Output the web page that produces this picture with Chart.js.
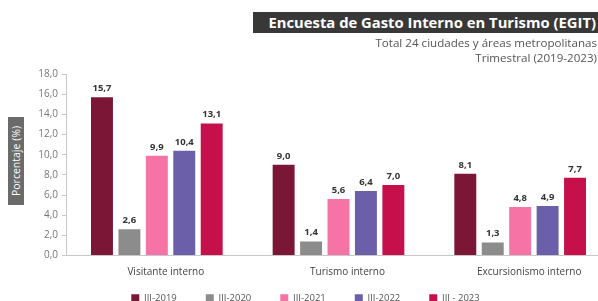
<!DOCTYPE html>
<html><head><meta charset="utf-8">
<script src="https://cdn.jsdelivr.net/npm/chart.js@4/dist/chart.umd.min.js"></script>
<style>
html,body{margin:0;padding:0;width:598px;height:301px;overflow:hidden;background:#fff;font-family:"Open Sans",sans-serif;}
#wrap{position:absolute;left:0;top:0;width:640px;height:332px;}
#title{position:absolute;left:253px;top:12px;width:345px;height:21px;background:#383838;color:#fff;font-weight:bold;font-size:14.8px;line-height:21px;text-align:right;box-sizing:border-box;padding-right:2px;white-space:nowrap;}
.sub{position:absolute;right:1px;font-size:11.6px;color:#555;white-space:nowrap;line-height:14px;}
#ytitle{position:absolute;left:8px;top:117px;width:16px;height:88px;background:#6b6b6b;}
#ytitle span{position:absolute;left:50%;top:50%;transform:translate(-50%,-50%) rotate(-90deg);color:#fff;font-size:10.5px;white-space:nowrap;}
</style></head><body>
<div id="wrap"><canvas id="c" width="640" height="332"></canvas></div>
<div id="title">Encuesta de Gasto Interno en Turismo (EGIT)</div>
<div class="sub" style="top:36px">Total 24 ciudades y áreas metropolitanas</div>
<div class="sub" style="top:51px">Trimestral (2019-2023)</div>
<div id="ytitle"><span>Porcentaje (%)</span></div>
<script>
const categories = ["Visitante interno", "Turismo interno", "Excursionismo interno"];
const seriesNames = ["III-2019", "III-2020", "III-2021", "III-2022", "III - 2023"];
const s2019 = [15.7, 9.0, 8.1];
const s2020 = [2.6, 1.4, 1.3];
const s2021 = [9.9, 5.6, 4.8];
const s2022 = [10.4, 6.4, 4.9];
const s2023 = [13.1, 7.0, 7.7];
const yTicks = [0, 2, 4, 6, 8, 10, 12, 14, 16, 18];
const colors = ["#7b1636", "#8c8c8c", "#f573a5", "#6a5fa8", "#c5104b"];

const fmt = v => v.toFixed(1).replace('.', ',');
const labelPlugin = {
  id: 'valLabels',
  afterDatasetsDraw(chart) {
    const ctx = chart.ctx;
    ctx.save();
    ctx.font = 'bold 9.5px "Open Sans"';
    ctx.fillStyle = '#333';
    ctx.textAlign = 'center';
    ctx.textBaseline = 'bottom';
    chart.data.datasets.forEach((ds, i) => {
      chart.getDatasetMeta(i).data.forEach((bar, j) => {
        ctx.fillText(fmt(ds.data[j]), bar.x, bar.y - 4);
      });
    });
    ctx.restore();
  }
};
const legendShift = {
  id: 'legendShift',
  afterLayout(chart) {
    const l = chart.legend;
    if (l) { l.top -= 19; l.bottom -= 19; }
  }
};

new Chart(document.getElementById('c'), {
  type: 'bar',
  data: {
    labels: categories,
    datasets: [s2019, s2020, s2021, s2022, s2023].map((d, i) => ({
      label: seriesNames[i], data: d, backgroundColor: colors[i],
      categoryPercentage: 0.755, barPercentage: 0.8
    }))
  },
  options: {
    responsive: false, animation: false,
    layout: { padding: { top: 74, right: 29, left: 0, bottom: 0 } },
    plugins: {
      tooltip: { enabled: false },
      legend: {
        position: 'bottom',
        labels: { boxWidth: 8, boxHeight: 8, padding: 29, color: '#555', font: { size: 9.5, family: 'Open Sans' } }
      }
    },
    scales: {
      x: {
        grid: { display: false },
        border: { display: true, color: '#c8c8c8' },
        ticks: { color: '#444', font: { size: 10, family: 'Open Sans' }, padding: 3, labelOffset: 9, autoSkip: false, maxRotation: 0, minRotation: 0 },
        afterFit: s => { s.height = 28; }
      },
      y: {
        min: 0, max: 18,
        afterBuildTicks: s => { s.ticks = yTicks.map(v => ({ value: v })); },
        grid: { drawOnChartArea: false, drawTicks: true, tickLength: 4, color: '#c8c8c8' },
        border: { display: true, color: '#c8c8c8' },
        ticks: { color: '#777', font: { size: 10, family: 'Open Sans' }, padding: 4, callback: v => fmt(v) },
        afterFit: s => { s.width = 66; }
      }
    }
  },
  plugins: [labelPlugin, legendShift]
});
</script>
</body></html>
